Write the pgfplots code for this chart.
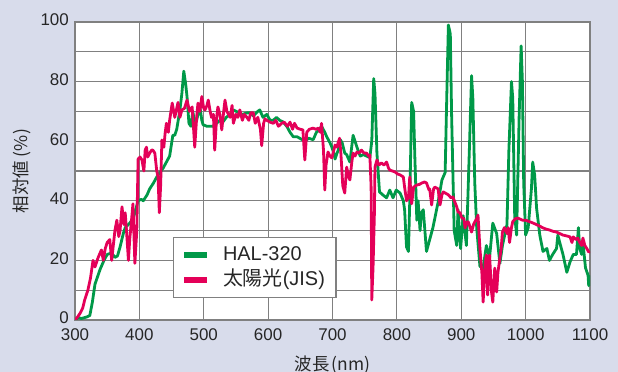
\documentclass[border=0pt]{standalone}
\usepackage{pgfplots}
\pgfplotsset{compat=1.18}
\usepackage{fontspec}
\setmainfont{Liberation Sans}
\newfontfamily\jp{Noto Sans CJK JP}
\definecolor{bgcol}{RGB}{216,220,235}
\definecolor{halgreen}{RGB}{0,153,72}
\definecolor{sunred}{RGB}{228,0,88}
\definecolor{gridgray}{RGB}{128,128,128}
\begin{document}
\begin{tikzpicture}
\path[use as bounding box, fill=bgcol] (0,0) rectangle (618bp,372bp);
\begin{axis}[
  at={(75bp,52bp)}, anchor=south west,
  scale only axis, width=515bp, height=298bp,
  xmin=300, xmax=1100, ymin=0, ymax=100,
  xtick={300,400,...,1100}, ytick={0,20,...,100},
  minor ytick={10,30,50,70,90},
  grid=both,
  major grid style={gridgray, line width=1.2bp},
  minor grid style={gridgray, line width=1.2bp},
  axis line style={gridgray, line width=1.4bp},
  major tick length=0pt, minor tick length=0pt,
  axis background/.style={fill=white},
  /pgf/number format/assume math mode=true,
  /pgf/number format/1000 sep={},
  tick label style={font=\fontsize{17}{17}\selectfont, text=black!85, inner sep=1bp},
  xticklabel style={yshift=-7.7bp},
  yticklabel style={xshift=-5bp, yshift=2bp},
  xlabel={\jp 波長\kern2bp(nm)},
  ylabel={\jp 相対値\kern3bp(\kern0.5bp\%\kern0.5bp)},
  label style={font=\fontsize{17.5}{17.5}\selectfont, text=black!85},
  xlabel style={at={(axis description cs:0.5,-0.150)}, anchor=center},
  ylabel style={at={(axis description cs:-0.103,0.5)}, anchor=center},
  legend style={at={(axis cs:452,27.9)}, anchor=north west,
    draw=gridgray, line width=1.4bp, fill=white,
    font=\fontsize{20}{20}\selectfont, text=black!85,
    inner xsep=8bp, inner ysep=5bp, row sep=0bp, column sep=10bp,
    nodes={inner xsep=3bp, inner ysep=3bp, text height=15bp, text depth=4bp}},
  legend cell align=left,
  legend image code/.code={\draw[#1, line width=5.5bp] (0bp,0bp) -- (23bp,0bp);},
  every axis plot/.append style={line width=2.8bp, line join=round},
]
\addplot[halgreen] coordinates {
(300,0) (305,0.8) (310,0.5) (318,1) (323,1.5) (327,6) (331,12) (339,17) (345,20)
(350,22) (357,22.5) (362,21) (366,21.5) (370,24.5) (375,29) (378,31) (385,32.5)
(390,34) (393,36) (398,40) (403,40.5) (406,40) (412,42) (416,44) (422,46) (427,48)
(432,49.5) (437,51) (442,53) (447,55) (452,62) (455,62) (458,64) (463,70.5)
(466,76) (469,83.5) (472,79) (474,75) (477,66) (480,65) (483,70) (486,66) (489,67)
(492,70) (494,71.5) (497,67) (499,65.5) (505,65) (514,65) (520,66) (525,67)
(530,66.5) (535,68) (541,69) (546,70.5) (555,69.5) (560,69) (567,69.5) (572,69.5)
(577,68.5) (584,70) (587,70.5) (592,68) (598,69) (603,67) (608,67) (613,68)
(618,67) (623,66.5) (629,65) (634,63) (639,61.5) (645,61.5) (649,61) (657,60)
(663,61) (670,60.5) (675,63) (678,63.5) (683,65) (688,63) (691,61.5) (696,59.5)
(699,58) (702,56) (704,54) (707,56) (709,57) (712,60.5) (715,59.5) (719,56)
(722,55.5) (727,53) (732,62) (738,58) (743,55) (748,55.5) (753,55) (758,54.5)
(761,60) (764,81) (766,76) (769,56) (773,43) (778,42) (784,41) (789,43.6) (794,41)
(799,43.6) (805,42.6) (810,40) (812,37) (815,24.5) (818,23) (820,40) (823,73)
(826,70) (828,54) (831,33.5) (833,40) (836,30) (838,36) (841,37) (846,23) (851,27)
(856,31) (864,39.5) (870,47) (875,49.5) (877,70) (880,99) (883,96) (885,69)
(889,30) (893,25) (895,37) (899,24) (903,35) (908,25) (913,60) (916,82) (918,74.5)
(921,46) (924,31) (929,18) (934,17.5) (939,25) (944,21) (949,32.5) (955,29)
(960,19) (964,25) (971,32) (974,57) (978,80) (980,74.5) (983,35) (986,28.5)
(990,69) (993,92) (995,80) (997,46) (1000,28.5) (1004,31) (1009,44) (1011,53)
(1014,48.7) (1017,37.6) (1022,28.5) (1027,23) (1033,24) (1037,20) (1042,22)
(1048,24) (1050,28.5) (1053,26) (1058,22) (1064,16) (1069,19.5) (1074,22)
(1079,22) (1082,31) (1084,24) (1087,22) (1089,26) (1093,17.5) (1097,15)
(1098,11.5) (1100,15)
};
\addlegendentry{HAL-320}
\addplot[sunred] coordinates {
(300,0) (304,1) (308,2.3) (312,4) (315,6.7) (320,10) (324,14) (328,20) (331,17.8)
(336,21) (341,23.5) (344,20) (347,24) (350,26) (354,27) (357,20) (360,26) (362,30)
(365,33.5) (368,28) (370,30) (373,38) (376,32) (378,36) (380,30) (383,20) (385,27)
(388,34) (390,39) (393,19) (396,30) (398,54) (401,54.7) (404,53.7) (407,50)
(409,57) (411,58) (413,54.7) (416,56) (419,57) (421,57) (424,56) (427,50) (429,48)
(431,36) (433,45) (435,60.4) (438,58) (440,62.7) (442,66) (445,63) (447,67)
(451,72.8) (455,68) (458,71) (460,73) (463,68) (466,70.5) (470,71) (474,73.8)
(478,70) (482,71.5) (486,58) (489,68) (491,72.8) (494,70) (497,75) (500,71)
(502,70.5) (505,72) (507,73.8) (510,70) (512,68) (515,69) (517,57) (520,68)
(522,71.5) (525,69) (528,63.8) (531,70) (533,73.8) (536,70) (541,68) (544,72)
(546,66) (550,69) (553,68) (556,70.5) (560,67) (563,69) (567,68) (570,67)
(573,69.5) (577,69.5) (580,66) (584,68) (588,64) (590,58.5) (593,66) (595,67.5)
(598,67) (603,66.4) (608,66) (612,67) (616,65) (621,66) (625,66.4) (630,65)
(634,66.4) (638,64) (641,66) (645,64.4) (650,64) (654,63.8) (657,53.7) (660,63)
(664,64) (670,64.4) (674,64) (678,64.4) (681,63) (683,66) (686,57) (688,43.6)
(690,52) (693,56.4) (696,55) (699,54.4) (702,57) (704,58.7) (707,58) (709,59.7)
(711,61) (713,56) (716,45) (719,42.6) (722,51.3) (725,48) (727,47) (730,53)
(732,56) (735,55) (738,56.4) (741,56) (745,57) (749,56) (753,56) (756,55)
(758,55.4) (760,44.6) (761,6.7) (763,17.8) (765,35) (766,51.3) (769,53.7) (772,52)
(776,52.7) (780,52) (784,53) (787,51) (789,50.3) (793,50) (797,49.7) (801,49)
(805,48.7) (810,48) (812,44.6) (815,40) (818,41) (820,48) (823,39) (826,44.6)
(829,45) (831,45.3) (835,45.5) (839,46) (843,46.3) (846,46) (850,43.6) (851,44)
(854,38.6) (857,44) (859,44.6) (864,44) (867,38.6) (870,42) (872,43) (876,42.5)
(880,42) (884,41) (887,41.3) (890,39.6) (893,38) (895,36.2) (898,36) (901,34.2)
(904,34) (906,30.9) (909,33) (911,32.9) (914,31) (916,29.5) (919,32) (921,32.9)
(924,34) (926,35.2) (929,24) (932,16) (934,6) (937,18.5) (939,21.8) (941,8.4)
(944,21.8) (947,9.4) (949,6) (952,17.4) (955,9.4) (957,16) (960,20.8) (962,24)
(964,29.5) (967,31) (971,29) (973,31) (975,26) (978,31) (980,33) (984,34)
(988,34.2) (995,33.5) (1000,33.5) (1006,33) (1012,32.5) (1017,32) (1022,31.5)
(1027,30.9) (1032,30.5) (1037,30.2) (1042,29.8) (1048,29.5) (1053,29) (1058,28.5)
(1064,28.2) (1069,27.9) (1072,26) (1074,27.9) (1078,27) (1081,27.5) (1084,26)
(1087,25) (1089,27.5) (1092,25) (1095,24) (1098,22.8) (1100,23)
};
\addlegendentry{{\jp 太陽光}(JIS)}
\end{axis}
\end{tikzpicture}
\end{document}
